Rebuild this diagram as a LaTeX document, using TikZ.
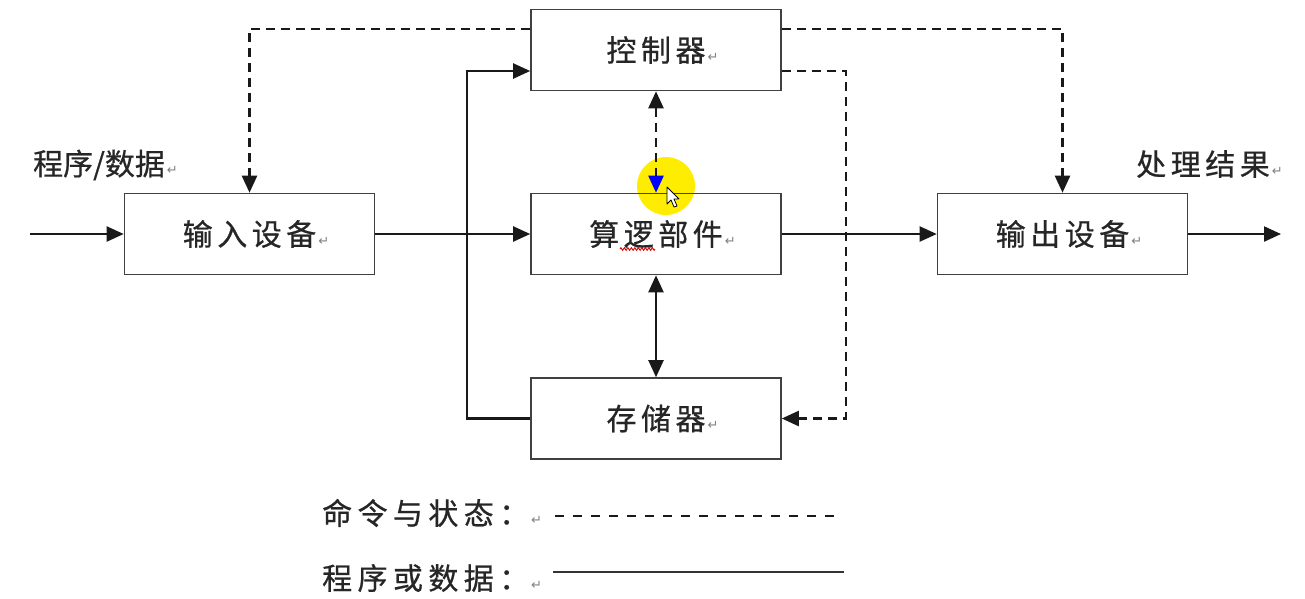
\documentclass[tikz,border=0pt]{standalone}
\usepackage{fontspec}
\usetikzlibrary{arrows.meta,decorations.pathmorphing}
\newfontfamily\cjkbox[LetterSpace=15,FakeBold=0.6]{Noto Sans CJK SC}
\newfontfamily\cjklab[LetterSpace=0,FakeBold=0.6]{Noto Sans CJK SC}
\newfontfamily\cjkleg[LetterSpace=18,FakeBold=0.6]{Noto Sans CJK SC}
\newfontfamily\symf{DejaVu Sans}
\newcommand{\pmark}{\rlap{\hspace{2pt}\symf\fontsize{13}{13}\selectfont\color{gray}↵}}
\begin{document}
\begin{tikzpicture}[x=1pt,y=-1pt,
  box/.style={draw=black!75,line width=1.6pt,minimum width=250pt,minimum height=81pt,inner sep=0pt,
     font=\cjkbox\fontsize{30}{30}\selectfont,text=black!85},
  lbl/.style={inner sep=0pt,font=\cjklab\fontsize{30}{30}\selectfont,text=black!85},
  leg/.style={inner sep=0pt,anchor=west,font=\cjkleg\fontsize{30}{30}\selectfont,text=black!85},
  sol/.style={line width=2.1pt,black!90},
  dsh/.style={line width=2.4pt,black!90,dash pattern=on 9pt off 6pt},
  tip/.style={-{Triangle[length=17pt,width=15pt]}},
  dtip/.style={{Triangle[length=17pt,width=15pt]}-{Triangle[length=17pt,width=15pt]}}
]
\useasboundingbox (0,0) rectangle (1305,598);
\fill[white] (0,0) rectangle (1305,598);
% highlight (screen recording)
\fill[yellow!95!orange] (666,186) circle[radius=29pt];

\node[box] (ctrl) at (656,50) {控制器\pmark};
\node[box] (in) at (249.5,234) {输入设备\pmark};
\node[box] (alu) at (656,234) {算逻部件\pmark};
\node[box] (out) at (1062.5,234) {输出设备\pmark};
\node[box] (mem) at (656,418.5) {存储器\pmark};

% spell-check squiggle under 逻
\coordinate (sq1) at (620,249);
\coordinate (sq2) at (655,249);
\draw[red!85!black,line width=0.9pt,decorate,decoration={zigzag,amplitude=1.3pt,segment length=3.5pt}] (sq1) -- (sq2);

\node[lbl] (lin) at (99,165) {程序/数据\pmark};
\node[lbl,font=\cjkbox\fontsize{30}{30}\selectfont] (lout) at (1203,164) {处理结果\pmark};

\coordinate (src) at (30,234);
\coordinate (dst) at (1281,234);

% solid connectors
\draw[sol,tip] (src) -- (in.west);
\draw[sol,tip] (in.east) -- (alu.west);
\draw[sol,tip] (alu.east) -- (out.west);
\draw[sol,tip] (out.east) -- (dst);
\draw[sol,dtip] (alu.south) -- (mem.north);
\draw[sol,tip] (mem.west) -- ++(-63,0) |- ([yshift=-21pt]ctrl.west);

% dashed connectors
\draw[dsh,tip] ([yshift=21pt]ctrl.west) -| (in.north);
\draw[dsh,tip] ([yshift=21pt]ctrl.east) -| (out.north);
\draw[dsh,tip] ([yshift=-21pt]ctrl.east) -- ++(64,0) |- (mem.east);
\draw[dsh,{Triangle[length=17pt,width=15pt]}-{Triangle[length=17pt,width=15pt,color=blue]}] (ctrl.south) -- (alu.north);

% cursor
\draw[black,line width=0.8pt,fill=white,line join=round] (667,187) -- (667,204) -- (671,200) -- (674,207) -- (677,206) -- (674,199) -- (679,199) -- cycle;

% legend
\node[leg] (lg1) at (322,513) {命令与状态：\pmark};
\node[leg] (lg2) at (322,578) {程序或数据：\pmark};
\coordinate (d1) at (555,516);
\coordinate (d2) at (840,516);
\coordinate (s1) at (553,572);
\coordinate (s2) at (844,572);
\draw[dsh,dash pattern=on 9pt off 9pt] (d1) -- (d2);
\draw[line width=1.6pt,black!80] (s1) -- (s2);
\end{tikzpicture}
\end{document}
